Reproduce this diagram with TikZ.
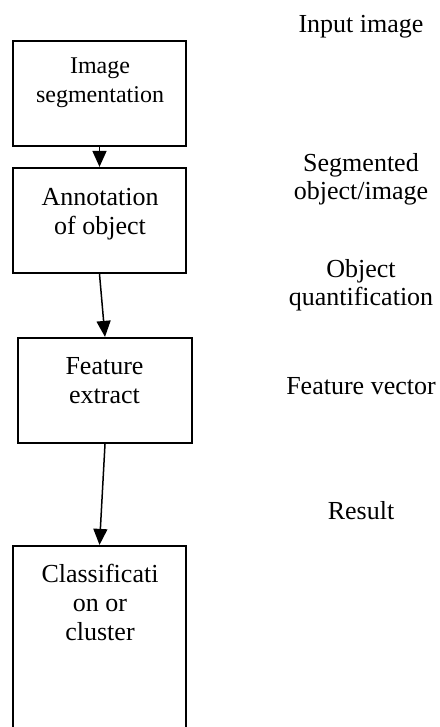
\documentclass[tikz,border=0pt]{standalone}
\usepackage{fontspec}
\setmainfont{Liberation Serif}
\usetikzlibrary{arrows.meta}
\tikzset{
  box/.style={draw=black, line width=2.2pt, minimum width=173pt, minimum height=105pt, inner sep=0pt},
  boxtxt/.style={align=center, inner sep=0pt, anchor=north, font=\fontsize{26}{29}\selectfont},
  boxtxts/.style={align=center, inner sep=0pt, anchor=north, font=\fontsize{24}{29}\selectfont},
  side/.style={align=center, inner sep=0pt, anchor=north, font=\fontsize{26}{28.5}\selectfont},
  flow/.style={-{Triangle[length=16pt,width=14pt]}, line width=1.5pt}
}

\begin{document}
\begin{tikzpicture}[x=1pt, y=-1pt]
  \useasboundingbox (0,0) rectangle (439,727);
  \clip (0,0) rectangle (439,727);

  % boxes
  \node[box] (seg) at (99.5,93.5) {};
  \node[box] (ann) at (99.5,220.5) {};
  \node[box, minimum width=174pt] (feat) at (105,390.5) {};
  \node[box, minimum height=260pt] (cls) at (99.5,676) {};

  % box texts
  \node[boxtxts] (segT) at (100,58) {Image\\segmentation};
  \node[boxtxt] (annT) at (100,188.5) {Annotation\\of object};
  \node[boxtxt] (featT) at (104.5,357) {Feature\\extract};
  \node[boxtxt] (clsT) at (100,564) {Classificati\\on or\\cluster};

  % arrows
  \draw[flow] (seg.south) -- (ann.north);
  \draw[flow] (ann.south) -- (feat.north);
  \draw[flow] (feat.south) -- (cls.north);

  % labels on the right
  \node[side] (inp) at (361,15) {Input image};
  \node[side] (segm) at (361,153) {Segmented\\object/image};
  \node[side] (quant) at (361,259) {Object\\quantification};
  \node[side] (fvec) at (361,377) {Feature vector};
  \node[side] (res) at (361,501) {Result};
\end{tikzpicture}
\end{document}
